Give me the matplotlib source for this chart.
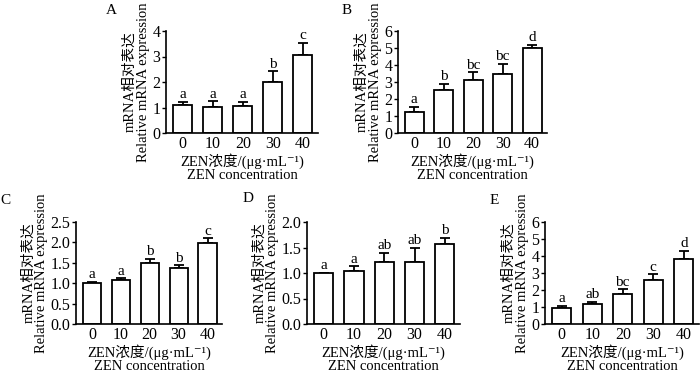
import matplotlib
matplotlib.use("Agg")
import matplotlib.pyplot as plt
import numpy as np

plt.rcParams['font.family'] = ['Liberation Serif', 'Noto Sans CJK SC', 'DejaVu Serif']

# data
concentrations = ["0", "10", "20", "30", "40"]

a_mean = [1.11, 1.01, 1.05, 2.01, 3.05]
a_err = [0.11, 0.23, 0.17, 0.41, 0.48]
a_sig = ["a", "a", "a", "b", "c"]

b_mean = [1.25, 2.53, 3.13, 3.49, 5.0]
b_err = [0.29, 0.37, 0.43, 0.57, 0.19]
b_sig = ["a", "b", "bc", "bc", "d"]

c_mean = [1.0, 1.08, 1.49, 1.38, 1.98]
c_err = [0.03, 0.04, 0.11, 0.06, 0.12]
c_sig = ["a", "a", "b", "b", "c"]

d_mean = [1.0, 1.04, 1.22, 1.22, 1.57]
d_err = [0.0, 0.09, 0.17, 0.27, 0.12]
d_sig = ["a", "a", "ab", "ab", "b"]

e_mean = [0.96, 1.16, 1.76, 2.59, 3.84]
e_err = [0.10, 0.13, 0.28, 0.33, 0.45]
e_sig = ["a", "ab", "bc", "c", "d"]

ylabel = "mRNA相对表达\nRelative mRNA expression"
xlabel = "ZEN浓度/(μg·mL⁻¹)\nZEN concentration"

fig = plt.figure(figsize=(7.0, 3.74), dpi=100)

W, H = 700, 374


def add_panel(left, right, bottom, top, letter, lx, ly, mean, err, sig, ymax, yticks, fmt):
    ax = fig.add_axes([left / W, 1 - bottom / H, (right - left) / W, (bottom - top) / H])
    x = np.arange(len(concentrations))
    ax.bar(x, mean, width=0.63, color='white', edgecolor='black', linewidth=1.3, zorder=2)
    ax.errorbar(x, mean, yerr=[np.zeros(len(err)), err], fmt='none', ecolor='black',
                elinewidth=1.3, capsize=3.5, capthick=1.3, zorder=1)
    for xi, m, e, s in zip(x, mean, err, sig):
        ax.annotate(s, xy=(xi, m + e), xytext=(0, 0.5), textcoords='offset points',
                    ha='center', va='bottom', fontsize=11)
    ax.set_xlim(-0.55, 4.5)
    ax.set_ylim(0, ymax)
    ax.set_yticks(yticks)
    ax.set_yticklabels([fmt.format(v) for v in yticks])
    ax.set_xticks(x)
    ax.set_xticklabels(concentrations)
    ax.tick_params(axis='x', length=0, pad=2.5, labelsize=11.5)
    ax.tick_params(axis='y', length=3, width=1, pad=1, labelsize=11.5)
    ax.spines['top'].set_visible(False)
    ax.spines['right'].set_visible(False)
    ax.spines['left'].set_linewidth(1.2)
    ax.spines['bottom'].set_linewidth(1.2)
    ax.set_ylabel(ylabel, fontsize=10.5, linespacing=1.05, labelpad=1.5)
    ax.set_xlabel(xlabel, fontsize=10.5, linespacing=1.0, labelpad=0.5)
    fig.text(lx / W, 1 - ly / H, letter, fontsize=11, ha='left', va='center')
    return ax


add_panel(166, 318, 133, 31, "A", 106, 11, a_mean, a_err, a_sig, 4, [0, 1, 2, 3, 4], "{:.0f}")
add_panel(398, 547, 133, 31, "B", 342, 11, b_mean, b_err, b_sig, 6, [0, 1, 2, 3, 4, 5, 6], "{:.0f}")
add_panel(76, 222, 324, 222, "C", 0, 200, c_mean, c_err, c_sig, 2.5,
          [0, 0.5, 1.0, 1.5, 2.0, 2.5], "{:.1f}")
add_panel(307, 460, 324, 222, "D", 243, 198, d_mean, d_err, d_sig, 2.0,
          [0, 0.5, 1.0, 1.5, 2.0], "{:.1f}")
add_panel(545, 699, 324, 222, "E", 490, 200, e_mean, e_err, e_sig, 6, [0, 1, 2, 3, 4, 5, 6], "{:.0f}")

fig.savefig("out.png", dpi=100)
